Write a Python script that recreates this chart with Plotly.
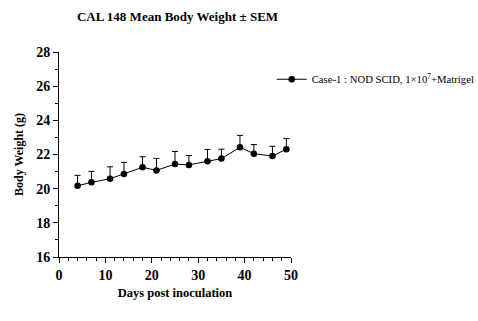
import plotly.graph_objects as go

# Mean body weight per measurement day, with standard error of the mean
days = [4, 7, 11, 14, 18, 21, 25, 28, 32, 35, 39, 42, 46, 49]
mean_weight = [20.17, 20.37, 20.58, 20.86, 21.25, 21.07, 21.44, 21.39, 21.60, 21.76, 22.42, 22.05, 21.91, 22.31]
sem = [0.61, 0.64, 0.70, 0.68, 0.62, 0.70, 0.74, 0.55, 0.70, 0.55, 0.70, 0.53, 0.57, 0.62]
series_name = "Case-1 : NOD SCID, 1×10<sup>7</sup>+Matrigel"
y_ticks = [16, 18, 20, 22, 24, 26, 28]
x_ticks = [0, 10, 20, 30, 40, 50]

W, H = 478, 321
L, R, T, B = 59.3, 291.3, 52.3, 256.7

serif = "Liberation Serif"


def px_x(p):
    return (p - L) / (R - L)


def px_y(p):
    return (B - p) / (B - T)


fig = go.Figure()
fig.add_trace(go.Scatter(
    x=days, y=mean_weight, name=series_name, mode="lines+markers",
    line=dict(color="black", width=1),
    marker=dict(color="black", size=6.5, symbol="circle"),
    error_y=dict(type="data", symmetric=False, array=sem,
                 arrayminus=[0] * len(sem), color="black", thickness=1, width=3),
    cliponaxis=False,
))

fig.update_layout(
    template="none",
    width=W, height=H,
    margin=dict(l=L, r=W - R, t=T, b=H - B, pad=0, autoexpand=False),
    paper_bgcolor="white", plot_bgcolor="white",
    font=dict(family=serif, color="#000000"),
    title=dict(text="<b>CAL 148 Mean Body Weight ± SEM</b>", x=177.5 / W, xanchor="center",
               y=1 - 16 / H, yanchor="middle",
               font=dict(family=serif, size=13, color="#000000")),
    showlegend=True,
    legend=dict(x=px_x(272), y=px_y(65), xanchor="left", yanchor="top",
                bgcolor="rgba(0,0,0,0)", itemwidth=30,
                font=dict(family=serif, size=10.7, color="#000000")),
)

tick_font = dict(family=serif, size=14, color="#000000", weight="bold")

# Major axes with labels
fig.update_layout(
    xaxis=dict(
        range=[0, 50], tickmode="array", tickvals=x_ticks,
        showgrid=False, zeroline=False, showline=True, linecolor="black", linewidth=1,
        ticks="outside", ticklen=5, tickcolor="black", tickwidth=1, tickfont=tick_font,
        title=dict(text="<b>Days post inoculation</b>", standoff=6,
                   font=dict(family=serif, size=12.5, color="#000000")),
    ),
    yaxis=dict(
        range=[16, 28], tickmode="array", tickvals=y_ticks,
        showgrid=False, zeroline=False, showline=True, linecolor="black", linewidth=1,
        ticks="outside", ticklen=5, tickcolor="black", tickwidth=1, tickfont=tick_font,
        title=dict(text="<b>Body Weight (g)</b>", standoff=10,
                   font=dict(family=serif, size=12, color="#000000")),
    ),
    # Minor tick marks on overlaid, unlabeled axes
    xaxis2=dict(
        overlaying="x", anchor="y", side="bottom", range=[0, 50],
        tickmode="linear", tick0=0, dtick=2, ticks="outside", ticklen=3,
        tickcolor="black", tickwidth=1, showticklabels=False,
        showgrid=False, zeroline=False, showline=False,
    ),
    yaxis2=dict(
        overlaying="y", anchor="x", side="left", range=[16, 28],
        tickmode="linear", tick0=16, dtick=1, ticks="outside", ticklen=3,
        tickcolor="black", tickwidth=1, showticklabels=False,
        showgrid=False, zeroline=False, showline=False,
    ),
)

# Invisible trace that activates the minor-tick axes
fig.add_trace(go.Scatter(x=[days[0]], y=[mean_weight[0]], xaxis="x2", yaxis="y2",
                         mode="markers", marker=dict(opacity=0), showlegend=False,
                         hoverinfo="skip"))

fig.write_html("out.html")
